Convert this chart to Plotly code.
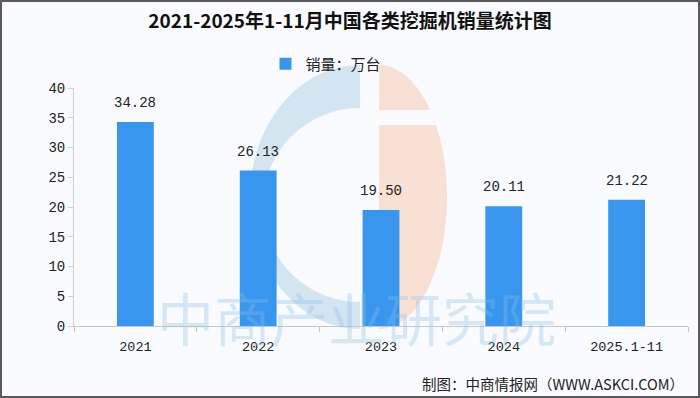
import numpy as np
import plotly.graph_objects as go

categories = ["2021", "2022", "2023", "2024", "2025.1-11"]
sales = [34.28, 26.13, 19.50, 20.11, 21.22]
value_labels = ["34.28", "26.13", "19.50", "20.11", "21.22"]
series_name = "销量：万台"
title = "2021-2025年1-11月中国各类挖掘机销量统计图"
source = "制图：中商情报网（WWW.ASKCI.COM）"
watermark = "中商产业研究院"

W, H = 700, 398
ml, mr, mt, mb = 74, 12, 88, 72
pw, ph = W - ml - mr, H - mt - mb

cjk = "Noto Sans CJK SC"
mono = "Liberation Mono"


def px(x):
    return (x - ml) / pw


def py(y):
    return (H - mb - y) / ph


fig = go.Figure()
fig.add_trace(go.Bar(
    x=categories, y=sales, name=series_name,
    marker=dict(color="#3896ee", line=dict(width=0)),
    width=0.30,
))

# value labels: positioned on the category axis by category index
for i, (v, t) in enumerate(zip(sales, value_labels)):
    fig.add_annotation(x=i, y=v, text=t, showarrow=False, yanchor="bottom",
                       yshift=9, font=dict(family=mono, size=14, color="#222"))

fig.update_layout(
    width=W, height=H,
    margin=dict(l=ml, r=mr, t=mt, b=mb),
    paper_bgcolor="#f9fbfe", plot_bgcolor="rgba(0,0,0,0)",
    font=dict(family=cjk, color="#222", size=13),
    title=dict(text="<b>" + title + "</b>", x=0.5, xanchor="center",
               y=1 - 21 / H, yanchor="middle",
               font=dict(family=cjk, size=19, color="#111")),
    showlegend=True,
    legend=dict(orientation="h", x=px(326), xanchor="center", y=py(64),
                yanchor="middle", font=dict(family=cjk, size=15, color="#222"),
                bgcolor="rgba(0,0,0,0)", itemwidth=30),
    xaxis=dict(type="category", categoryorder="array", categoryarray=categories,
               showgrid=False, showline=True, linecolor="#c8c8c8",
               ticks="outside", tickson="boundaries", ticklen=5,
               tickcolor="#c8c8c8", ticklabelstandoff=8,
               tickfont=dict(family=mono, size=13.5, color="#222"),
               fixedrange=True),
    yaxis=dict(range=[0, 40], dtick=5, showgrid=False, showline=True,
               linecolor="#d0d0d0", ticks="outside", ticklen=5,
               tickcolor="#d0d0d0",
               tickfont=dict(family=mono, size=14, color="#222"),
               zeroline=False, fixedrange=True),
)


def ellipse_pts(cx, cy, rx, ry, a0, a1, n=60):
    a = np.linspace(np.radians(a0), np.radians(a1), n)
    return [(cx + rx * np.cos(t), cy - ry * np.sin(t)) for t in a]


def path_from(pts):
    return "M " + " L ".join(f"{px(x):.4f},{py(y):.4f}" for x, y in pts) + " Z"


# logo watermark (background decoration)
outer = ellipse_pts(360, 197, 110, 132, 90, 270)
inner = ellipse_pts(360, 205, 97, 97, 270, 90)
fig.add_shape(type="path", xref="paper", yref="paper", path=path_from(outer + inner),
              fillcolor="rgb(212,229,242)", line=dict(width=0), layer="below")
a_top = np.degrees(np.arcsin((197 - 110) / 132))
top_r = [(379, 65)] + ellipse_pts(379, 197, 68, 132, 90, a_top) + [(379, 110)]
fig.add_shape(type="path", xref="paper", yref="paper", path=path_from(top_r),
              fillcolor="rgb(249,224,212)", line=dict(width=0), layer="below")
a_start = np.degrees(np.arcsin((197 - 125) / 132))
bot_r = [(379, 125)] + ellipse_pts(379, 197, 68, 132, a_start, -90) + [(379, 329)]
fig.add_shape(type="path", xref="paper", yref="paper", path=path_from(bot_r),
              fillcolor="rgb(249,224,212)", line=dict(width=0), layer="below")

# watermark text
fig.add_annotation(text=watermark, xref="paper", yref="paper",
                   x=px(356), y=py(316), xanchor="center", yanchor="middle",
                   showarrow=False,
                   font=dict(family=cjk, size=57, color="rgba(140,190,232,0.33)"))

# source footer
fig.add_annotation(text=source, xref="paper", yref="paper",
                   x=px(686), xanchor="right",
                   y=py(383), yanchor="middle",
                   showarrow=False, font=dict(family=cjk, size=14.5, color="#222"))

# outer frame
fig.add_shape(type="rect", xref="paper", yref="paper",
              x0=px(1), x1=px(W - 1), y0=py(H - 1), y1=py(1),
              line=dict(color="#5a5a5a", width=2), fillcolor="rgba(0,0,0,0)")

fig.write_html("out.html", config={"displayModeBar": False},
               post_script="document.body.style.margin='0';document.body.style.overflow='hidden';")
